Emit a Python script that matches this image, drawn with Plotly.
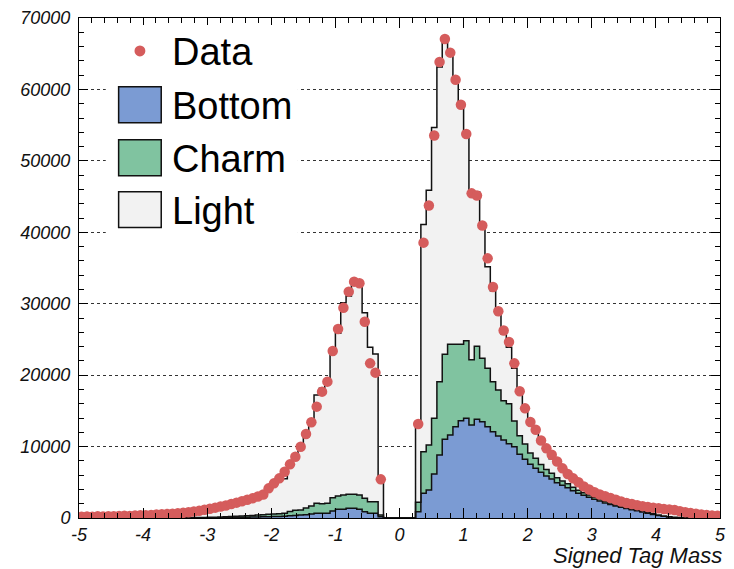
import numpy as np
import plotly.graph_objects as go

# Signed tag mass distribution: 120 bins of width 1/12 between -5 and 5
x_min, x_max, n_bins = -5.0, 5.0, 120

bottom = [
    0, 0, 0, 0, 0, 0, 0, 0, 0, 0, 5, 5,
    8, 8, 10, 10, 12, 14, 16, 18, 20, 25, 30, 40,
    50, 60, 70, 80, 90, 100, 110, 120, 140, 150, 170, 180,
    200, 220, 250, 300, 350, 420, 450, 550, 650, 650, 650, 980,
    1210, 1210, 1350, 1350, 1210, 890, 650, 650, 190, 0, 0, 0,
    0, 0, 0, 880, 3450, 3920, 6160, 8820, 11010, 11620, 12790, 13630,
    13950, 13020, 13810, 13490, 12790, 12090, 11480, 10920, 10400, 9990, 8910, 8210,
    7510, 6950, 6390, 5880, 5460, 4950, 4570, 4250, 3830, 3450, 3170, 2890,
    2610, 2380, 2100, 1880, 1680, 1500, 1330, 1150, 1000, 850, 650, 500,
    350, 230, 140, 80, 50, 30, 20, 15, 10, 10, 5, 5,
]

charm = [
    0, 0, 0, 0, 0, 0, 0, 0, 0, 0, 5, 5,
    8, 8, 10, 12, 14, 16, 18, 20, 24, 28, 30, 40,
    50, 60, 80, 100, 120, 140, 160, 180, 220, 260, 300, 330,
    350, 380, 420, 600, 750, 700, 950, 1130, 1400, 1350, 1400, 1870,
    1870, 2010, 1960, 1960, 2010, 1860, 1640, 1640, 230, 0, 0, 0,
    0, 0, 0, 1320, 5840, 6300, 7790, 10270, 11920, 12710, 11540, 10700,
    10880, 9140, 10250, 8860, 8160, 7000, 6440, 5510, 5600, 3600, 2600, 2150,
    1600, 1400, 1100, 900, 800, 700, 620, 550, 480, 430, 380, 340,
    300, 270, 240, 210, 190, 170, 150, 130, 110, 100, 90, 80,
    70, 60, 50, 40, 30, 20, 15, 10, 10, 5, 5, 5,
]

light = [
    160, 180, 180, 200, 210, 230, 230, 250, 270, 270, 290, 320,
    344, 384, 410, 448, 484, 530, 566, 622, 686, 767, 860, 980,
    1100, 1220, 1330, 1440, 1590, 1760, 1910, 2080, 2220, 2410, 2680, 3390,
    4050, 4700, 4830, 6300, 7200, 8580, 10000, 11420, 15170, 16150, 17450, 20450,
    22780, 26920, 27770, 29690, 29540, 25990, 21600, 20670, 4580, 0, 0, 0,
    0, 0, 0, 10600, 31810, 35680, 40710, 44050, 43940, 41140, 37190, 33310,
    28750, 23490, 21590, 18880, 14210, 12710, 10580, 9370, 7900, 7360, 6190, 4940,
    4190, 3650, 3010, 2520, 2040, 1950, 1510, 1100, 990, 820, 650, 570,
    490, 450, 510, 510, 480, 480, 470, 520, 540, 570, 660, 720,
    780, 810, 810, 780, 730, 650, 565, 475, 400, 335, 270, 220,
]

data = [
    180, 210, 190, 230, 220, 260, 240, 280, 300, 290, 340, 370,
    400, 430, 480, 520, 560, 610, 650, 720, 800, 900, 1000, 1150,
    1300, 1450, 1600, 1750, 1950, 2150, 2350, 2550, 2750, 3000, 3300, 4150,
    4850, 5550, 6480, 7510, 8580, 9980, 11760, 13400, 15590, 17690, 19090, 23380,
    26460, 29440, 31690, 33090, 32860, 27480, 21650, 20350, 5410, None, None, None,
    None, None, None, 13150, 38550, 43750, 53550, 63850, 67050, 65150, 61350, 57850,
    53750, 45450, 45150, 40950, 36350, 32350, 28950, 26250, 24650, 21650, 17750, 15350,
    13450, 12350, 10850, 9750, 8850, 7900, 6950, 6150, 5550, 5000, 4400, 4000,
    3600, 3300, 3050, 2800, 2550, 2300, 2100, 1950, 1800, 1660, 1550, 1450,
    1360, 1270, 1190, 1110, 950, 820, 700, 600, 500, 420, 350, 300,
]

x_ticks = [-5, -4, -3, -2, -1, 0, 1, 2, 3, 4, 5]
x_tick_labels = ["-5", "-4", "-3", "-2", "-1", "0", "1", "2", "3", "4", "5"]
y_ticks = [0, 10000, 20000, 30000, 40000, 50000, 60000, 70000]
y_tick_labels = ["0", "10000", "20000", "30000", "40000", "50000", "60000", "70000"]

series_names = ["Bottom", "Charm", "Light"]
series_colors = ["#7b9bd3", "#80c3a0", "#f2f2f2"]
data_color = "#d55c5c"

edges = np.linspace(x_min, x_max, n_bins + 1)
centers = 0.5 * (edges[:-1] + edges[1:])

fig = go.Figure()

# stacked step histograms: each series closes on its right edge
for name, vals, col in zip(series_names, [bottom, charm, light], series_colors):
    fig.add_trace(go.Scatter(
        x=edges, y=list(vals) + [vals[-1]],
        mode="lines", line=dict(shape="hv", color="#111111", width=1.5),
        stackgroup="mc", fillcolor=col, name=name, showlegend=False,
        hoverinfo="skip",
    ))

fig.add_trace(go.Scatter(
    x=centers, y=data, mode="markers",
    marker=dict(symbol="circle", size=10.5, color=data_color),
    name="Data", showlegend=False,
))

# plot area in pixels
L, R, T, B = 79, 726, 17, 518
W, H = R - L, B - T


def px(xp):
    return (xp - L) / W


def py(yp):
    return (B - yp) / H


shapes = []
annotations = []

# legend block
shapes.append(dict(type="rect", xref="paper", yref="paper",
                   x0=px(106), x1=px(300), y0=py(236), y1=py(24),
                   fillcolor="white", line=dict(width=0), layer="above"))
shapes.append(dict(type="circle", xref="paper", yref="paper",
                   x0=px(135), x1=px(146), y0=py(55.5), y1=py(44.5),
                   fillcolor=data_color, line=dict(width=0), layer="above"))
legend_rows = [("Data", 50)]
for name, col, yc in zip(series_names, series_colors, [104, 157, 209]):
    shapes.append(dict(type="rect", xref="paper", yref="paper",
                       x0=px(119), x1=px(162), y0=py(yc + 18), y1=py(yc - 18),
                       fillcolor=col, line=dict(color="#111111", width=1.5),
                       layer="above"))
    legend_rows.append((name, yc))
for name, yc in legend_rows:
    annotations.append(dict(text=name, xref="paper", yref="paper",
                            x=px(171), y=py(yc + 1), xanchor="left",
                            yanchor="middle", showarrow=False,
                            font=dict(family="Liberation Sans", size=38,
                                      color="black")))

annotations.append(dict(text="Signed Tag Mass", xref="paper", yref="paper",
                        x=px(729), y=py(569), xanchor="right", yanchor="bottom",
                        showarrow=False, borderpad=0,
                        font=dict(family="Liberation Sans", size=22,
                                  color="#111111", style="italic")))

tick_font = dict(family="Liberation Sans", size=18, color="#111111",
                 style="italic")

fig.update_layout(
    width=734, height=569,
    margin=dict(l=L, r=734 - R, t=T, b=569 - B),
    paper_bgcolor="white", plot_bgcolor="white",
    shapes=shapes, annotations=annotations,
    showlegend=False,
    xaxis=dict(
        range=[x_min, x_max], tickvals=x_ticks, ticktext=x_tick_labels,
        ticks="inside", ticklen=10, tickwidth=1, tickcolor="black",
        showline=True, linecolor="black", linewidth=1, mirror="allticks",
        showgrid=False, zeroline=False, tickfont=tick_font,
        ticklabelstandoff=0,
        minor=dict(dtick=0.2, tick0=0, ticks="inside", ticklen=5,
                   tickcolor="black", showgrid=False),
    ),
    yaxis=dict(
        range=[0, 70000], tickvals=y_ticks, ticktext=y_tick_labels,
        ticks="inside", ticklen=9, tickwidth=1, tickcolor="black",
        showline=True, linecolor="black", linewidth=1, mirror="allticks",
        showgrid=True, gridcolor="#333333", gridwidth=1, griddash="dot",
        zeroline=False, tickfont=tick_font, ticklabelstandoff=4,
        minor=dict(dtick=2000, tick0=0, ticks="inside", ticklen=5,
                   tickcolor="black", showgrid=False),
    ),
)

fig.write_html("out.html")
